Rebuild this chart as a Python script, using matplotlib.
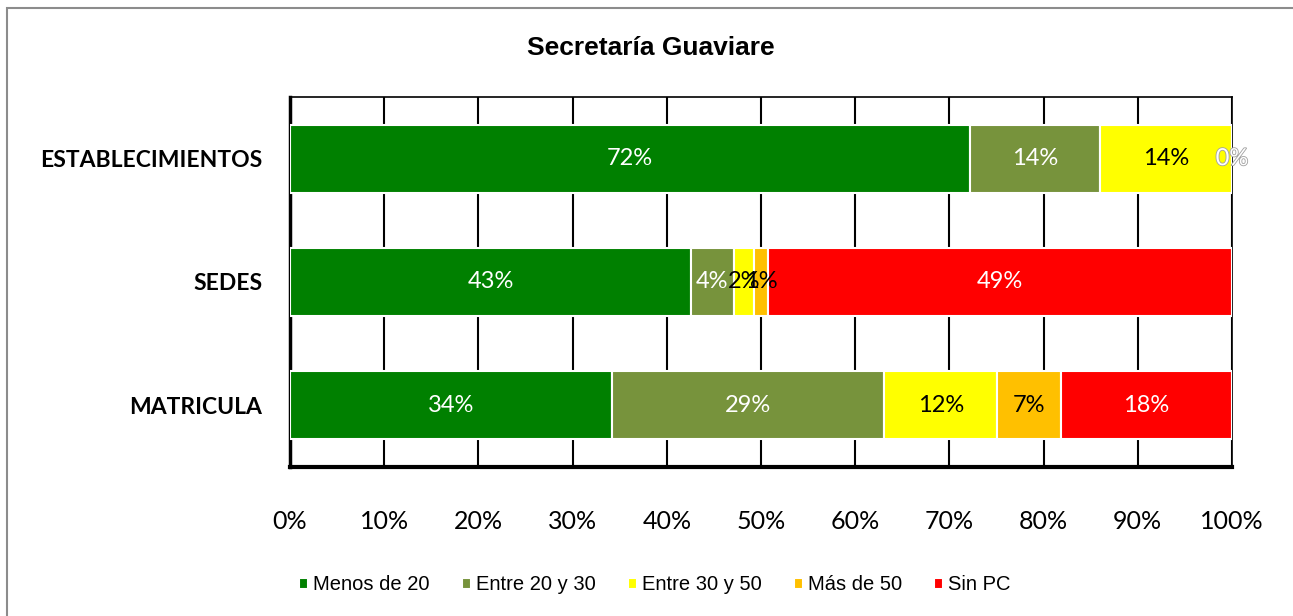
import matplotlib.pyplot as plt
import matplotlib.patheffects as pe
from matplotlib.patches import Rectangle
import numpy as np

# data (percent)
categorias = ['MATRICULA', 'SEDES', 'ESTABLECIMIENTOS']
series = ['Menos de 20', 'Entre 20 y 30', 'Entre 30 y 50', 'Más de 50', 'Sin PC']
menos_20 = [34.2, 42.6, 72.2]
entre_20_30 = [28.9, 4.5, 13.8]
entre_30_50 = [12.0, 2.2, 14.0]
mas_50 = [6.7, 1.4, 0.0]
sin_pc = [18.2, 49.3, 0.0]
etiquetas = [
    ['34%', '43%', '72%'],
    ['29%', '4%', '14%'],
    ['12%', '2%', '14%'],
    ['7%', '1%', ''],
    ['18%', '49%', '0%'],
]

colores = ['#008000', '#77933C', '#FFFF00', '#FFC000', '#FF0000']
color_texto = ['white', 'white', 'black', 'black', 'white']

fig = plt.figure(figsize=(12.93, 6.16), dpi=100)
# outer chart border
fig.patches.append(Rectangle((7 / 1293, -0.1), 1.2, (1 - 8 / 616) + 0.1,
                             transform=fig.transFigure, fill=False,
                             edgecolor='#8c8c8c', linewidth=1.5))

ax = fig.add_axes([290 / 1293, 1 - 467 / 616, 942 / 1293, 370 / 616])

y = np.arange(len(categorias))
valores = [menos_20, entre_20_30, entre_30_50, mas_50, sin_pc]
izq = np.zeros(len(categorias))
for i, vals in enumerate(valores):
    vals = np.array(vals)
    ax.barh(y, vals, left=izq, height=0.55, color=colores[i],
            edgecolor='white', linewidth=1.5, label=series[i], zorder=3)
    for j in range(len(categorias)):
        txt = etiquetas[i][j]
        if not txt:
            continue
        cx = izq[j] + vals[j] / 2
        if i == 4 and vals[j] == 0:
            ax.text(100, y[j], txt, ha='center', va='center', fontsize=17,
                    family='Lato', color='white', zorder=5,
                    path_effects=[pe.withStroke(linewidth=1.2, foreground='#a0a0a0')])
        else:
            ax.text(cx, y[j], txt, ha='center', va='center', fontsize=17,
                    family='Lato', color=color_texto[i], zorder=5)
    izq += vals

ax.set_xlim(0, 100)
ax.set_ylim(-0.5, 2.5)
ax.set_xticks(np.arange(0, 101, 10))
ax.set_xticklabels([f'{v}%' for v in range(0, 101, 10)], family='Lato', fontsize=18)
ax.set_yticks(y)
ax.set_yticklabels(categorias, family='Lato', fontweight='bold', fontsize=16.5)
ax.tick_params(axis='x', length=0, pad=31)
ax.tick_params(axis='y', length=0, pad=20)
ax.grid(axis='x', color='black', linewidth=1.5, zorder=0)
ax.set_axisbelow(True)
for s in ax.spines.values():
    s.set_color('black')
    s.set_linewidth(1.2)
ax.spines['left'].set_linewidth(2.5)
ax.spines['bottom'].set_linewidth(3)

fig.text(651 / 1293, 1 - 48 / 616, 'Secretaría Guaviare', ha='center', va='center',
         fontsize=19, fontweight='bold', family='Liberation Sans')

leg = fig.legend(loc='center', bbox_to_anchor=(655 / 1293, 1 - 585 / 616), ncol=5,
                 frameon=False, handlelength=0.45, handleheight=0.45, handletextpad=0.25,
                 columnspacing=1.6, prop={'family': 'Liberation Sans', 'size': 14.5})

fig.savefig('out.png', dpi=100)
